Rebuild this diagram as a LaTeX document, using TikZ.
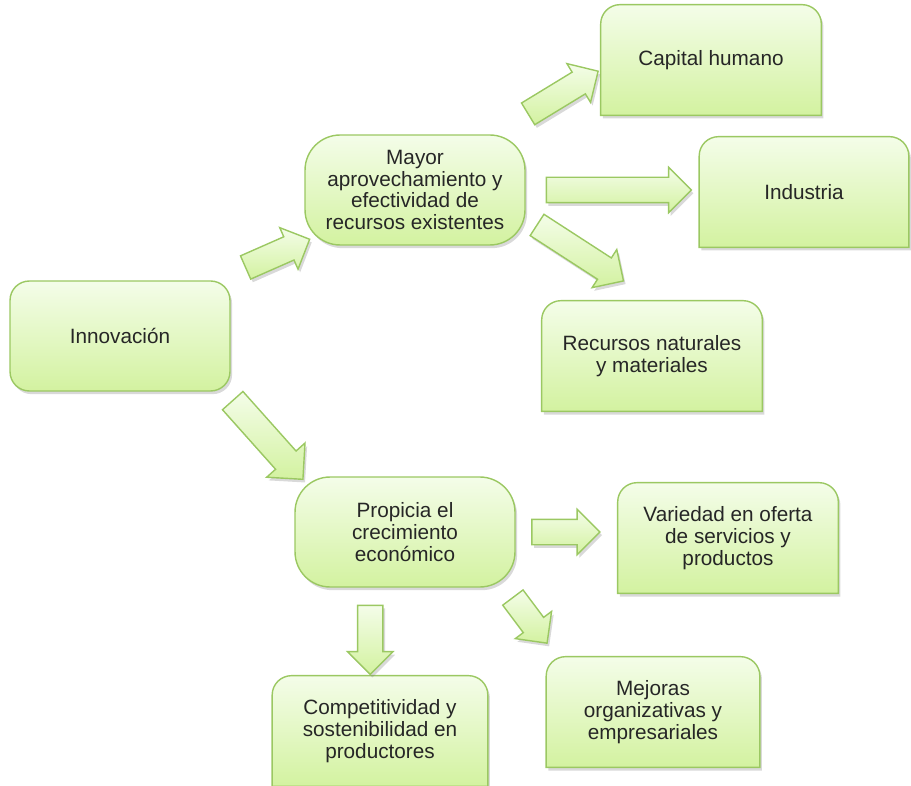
\documentclass[tikz,border=0pt]{standalone}
\usepackage{fontspec}
\setmainfont{Liberation Sans}
\usetikzlibrary{shapes.arrows,shadows,backgrounds}

\definecolor{claro}{HTML}{F4FDE9}
\definecolor{oscuro}{HTML}{D3F2A0}
\definecolor{borde}{HTML}{9BC862}
\definecolor{texto}{HTML}{262626}

\begin{document}
\begin{tikzpicture}[x=0.02cm,y=-0.02cm,
  font=\fontsize{11.8}{12.4}\selectfont,text=texto,
  verde/.style={draw=borde,line width=0.8pt,top color=claro,bottom color=oscuro,
    drop shadow={shadow xshift=1.2pt,shadow yshift=-1.8pt,opacity=.3}},
  caja/.style={minimum width=4.4cm,minimum height=2.2cm,align=center,inner sep=2pt},
  redonda/.style={caja,verde,rounded corners=11pt},
  pildora/.style={caja,verde,rounded corners=20pt},
  flecha/.style={single arrow,verde,sloped,allow upside down,inner xsep=0pt,inner ysep=0.24cm,
    minimum width=0.88cm,single arrow head extend=0.2cm}]
\useasboundingbox (0,0) rectangle (911,786);

% nodos
\node[redonda] (innov) at (120,336) {Innovación};
\node[pildora] (mayor) at (415,190) {Mayor\\aprovechamiento y\\efectividad de\\recursos existentes};
\node[pildora] (propicia) at (405,532) {Propicia el\\crecimiento\\económico};

\node[caja] (capital) at (711,60) {Capital humano};
\node[caja,minimum width=4.18cm] (industria) at (804,192) {Industria};
\node[caja] (recursos) at (652,356) {Recursos naturales\\y materiales};
\node[caja] (variedad) at (728,538) {Variedad en oferta\\de servicios y\\productos};
\node[caja,minimum width=4.3cm] (compet) at (380,731) {Competitividad y\\sostenibilidad en\\productores};
\node[caja,minimum width=4.26cm] (mejoras) at (653,712) {Mejoras\\organizativas y\\empresariales};

% cajas con esquinas de arriba redondeadas
\begin{scope}[on background layer]
\foreach \n in {capital,industria,recursos,variedad,compet,mejoras}
  \draw[verde] (\n.south west) -- ([yshift=-11pt]\n.north west)
    arc[start angle=180,end angle=90,radius=11pt] -- ([xshift=-11pt]\n.north east)
    arc[start angle=90,end angle=0,radius=11pt] -- (\n.south east) -- cycle;
\end{scope}

% flechas
\path (innov.30) -- node[flecha,pos=.63,minimum height=1.4cm] (f1) {} (mayor.205);
\path (mayor.35) -- node[flecha,pos=.595,minimum height=1.64cm] (f2) {} (capital.185);
\path (mayor.east) -- node[flecha,pos=.5,minimum height=2.9cm] (f3) {} (mayor.east -| industria.west);
\path (mayor.-14) -- node[flecha,pos=.384,minimum height=2.06cm] (f4) {} (recursos.88);
\path (innov.-28) -- node[flecha,pos=.51,minimum height=2.11cm,minimum width=1cm,
  inner ysep=0.26cm,single arrow head extend=.24cm] (f5) {} (propicia.152);
\path (propicia.east) -- node[flecha,pos=.43,minimum height=1.36cm] (f6) {} (propicia.east -| variedad.west);
\path (compet.100 |- propicia.south) -- node[flecha,pos=.52,minimum height=1.38cm] (f7) {} (compet.100);
\path (propicia.-29) -- node[flecha,pos=.4,minimum height=1.14cm] (f8) {} (mejoras.150);
\end{tikzpicture}
\end{document}
